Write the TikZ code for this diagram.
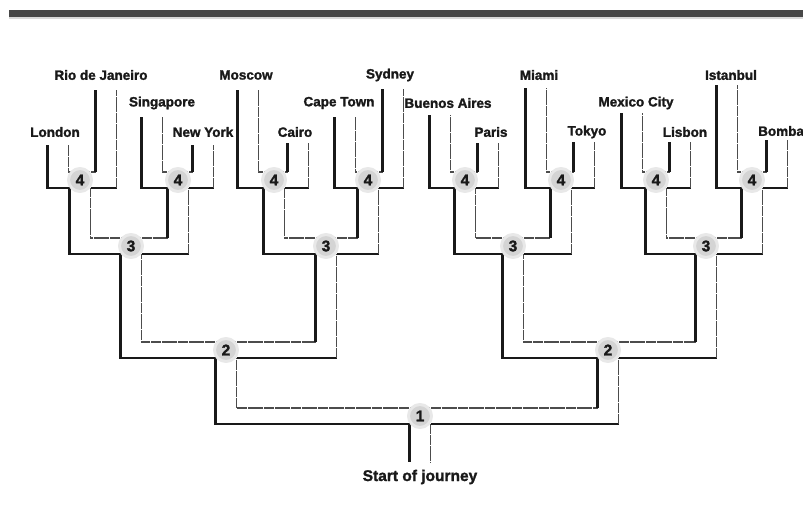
\documentclass[tikz,border=0pt]{standalone}
\usepackage{fontspec}
\setmainfont{Liberation Sans}
\newfontfamily\heavyfont{Liberation Sans Bold}[FakeBold=1.6]
\usetikzlibrary{calc}
\newcommand\roadw{10.5}
\newcommand\roadh{8}
\newcommand\lroad[3]{%
\draw[blk] ($(#1)+(-\roadw,\roadh)$) -| ($(#2)+(-\roadw,#3)$);
\draw[thn] ($(#1)+(0,-\roadh)$) -| ($(#2)+(\roadw,#3)$);}
\newcommand\rroad[3]{%
\draw[blk] ($(#1)+(\roadw,\roadh)$) -- ($(#1 -| #2)+(\roadw,\roadh)$);
\draw[thn] ($(#1 -| #2)+(\roadw,\roadh)$) -- ($(#2)+(\roadw,#3)$);
\draw[thn] ($(#1)+(0,-\roadh)$) -- ($(#1 -| #2)+(-\roadw,-\roadh)$);
\draw[blk] ($(#1 -| #2)+(-\roadw,-\roadh)$) -- ($(#2)+(-\roadw,#3)$);}
\begin{document}
\begin{tikzpicture}[x=1pt,y=-1pt,
blk/.style={line width=2.8pt,black!90},
thn/.style={line width=1.3pt,black!70,dash pattern=on 5pt off 0.4pt},
jct/.style={circle,minimum size=23pt,inner sep=0pt,fill=black!17,draw=black!9,line width=3pt,text=black!90,font=\heavyfont\fontsize{15.5}{15.5}\selectfont},
city/.style={text=black!90,font=\heavyfont\fontsize{13.5}{13.5}\selectfont}]
\useasboundingbox (0,0) rectangle (803,513);
\fill[black!72] (9,10) rectangle (803,17);
\fill[black!15] (9,17) rectangle (803,19);
\coordinate (n1) at (420,416);
\coordinate (n2a) at (226,350);
\coordinate (n2b) at (608,350);
\coordinate (n3a) at (131,246);
\coordinate (n3b) at (326,246);
\coordinate (n3c) at (513,246);
\coordinate (n3d) at (706,246);
\coordinate (n4a) at (80,180);
\coordinate (n4b) at (178,180);
\coordinate (n4c) at (274,180);
\coordinate (n4d) at (368,180);
\coordinate (n4e) at (465,180);
\coordinate (n4f) at (561,180);
\coordinate (n4g) at (656,180);
\coordinate (n4h) at (752,180);
\coordinate (l1) at (58,145);
\coordinate (l2) at (106,90);
\coordinate (l3) at (152,117);
\coordinate (l4) at (203,145);
\coordinate (l5) at (248,90);
\coordinate (l6) at (298,143);
\coordinate (l7) at (345,117);
\coordinate (l8) at (393,89);
\coordinate (l9) at (440,115);
\coordinate (l10) at (488,143);
\coordinate (l11) at (536,88);
\coordinate (l12) at (584,142);
\coordinate (l13) at (632,113);
\coordinate (l14) at (680,142);
\coordinate (l15) at (727,85);
\coordinate (l16) at (777,140);
\coordinate (start) at (420,462);
\draw[blk] ($(n1)+(-\roadw,\roadh)$) -- ($(start)+(-\roadw,0)$);
\draw[thn] ($(n1)+(\roadw,\roadh)$) -- ($(start)+(\roadw,0)$);
\lroad{n1}{n2a}{\roadh}
\rroad{n1}{n2b}{\roadh}
\lroad{n2a}{n3a}{\roadh}
\rroad{n2a}{n3b}{\roadh}
\lroad{n2b}{n3c}{\roadh}
\rroad{n2b}{n3d}{\roadh}
\lroad{n3a}{n4a}{\roadh}
\rroad{n3a}{n4b}{\roadh}
\lroad{n3b}{n4c}{\roadh}
\rroad{n3b}{n4d}{\roadh}
\lroad{n3c}{n4e}{\roadh}
\rroad{n3c}{n4f}{\roadh}
\lroad{n3d}{n4g}{\roadh}
\rroad{n3d}{n4h}{\roadh}
\lroad{n4a}{l1}{0}
\rroad{n4a}{l2}{0}
\lroad{n4b}{l3}{0}
\rroad{n4b}{l4}{0}
\lroad{n4c}{l5}{0}
\rroad{n4c}{l6}{0}
\lroad{n4d}{l7}{0}
\rroad{n4d}{l8}{0}
\lroad{n4e}{l9}{0}
\rroad{n4e}{l10}{0}
\lroad{n4f}{l11}{0}
\rroad{n4f}{l12}{0}
\lroad{n4g}{l13}{0}
\rroad{n4g}{l14}{0}
\lroad{n4h}{l15}{0}
\rroad{n4h}{l16}{0}
\node[jct] (j1) at (n1) {1};
\node[jct] (j2a) at (n2a) {2};
\node[jct] (j2b) at (n2b) {2};
\node[jct] (j3a) at (n3a) {3};
\node[jct] (j3b) at (n3b) {3};
\node[jct] (j3c) at (n3c) {3};
\node[jct] (j3d) at (n3d) {3};
\node[jct] (j4a) at (n4a) {4};
\node[jct] (j4b) at (n4b) {4};
\node[jct] (j4c) at (n4c) {4};
\node[jct] (j4d) at (n4d) {4};
\node[jct] (j4e) at (n4e) {4};
\node[jct] (j4f) at (n4f) {4};
\node[jct] (j4g) at (n4g) {4};
\node[jct] (j4h) at (n4h) {4};
\node[city] (london) at (55,132) {London};
\node[city] (rio) at (101,75) {Rio de Janeiro};
\node[city] (singapore) at (162,103) {Singapore};
\node[city] (newyork) at (203,132) {New York};
\node[city] (moscow) at (246,75) {Moscow};
\node[city] (cairo) at (295,132) {Cairo};
\node[city] (capetown) at (339,103) {Cape Town};
\node[city] (sydney) at (390,75) {Sydney};
\node[city] (buenos) at (448,103) {Buenos Aires};
\node[city] (paris) at (491,132) {Paris};
\node[city] (miami) at (539,75) {Miami};
\node[city] (tokyo) at (587,132) {Tokyo};
\node[city] (mexico) at (636,103) {Mexico City};
\node[city] (lisbon) at (685,132) {Lisbon};
\node[city] (istanbul) at (731,75) {Istanbul};
\node[city,anchor=west,inner xsep=0pt] (bombay) at (758,131) {Bomba};
\node[city,font=\heavyfont\fontsize{15.5}{15.5}\selectfont] (startlbl) at (420,477) {Start of journey};
\end{tikzpicture}
\end{document}
